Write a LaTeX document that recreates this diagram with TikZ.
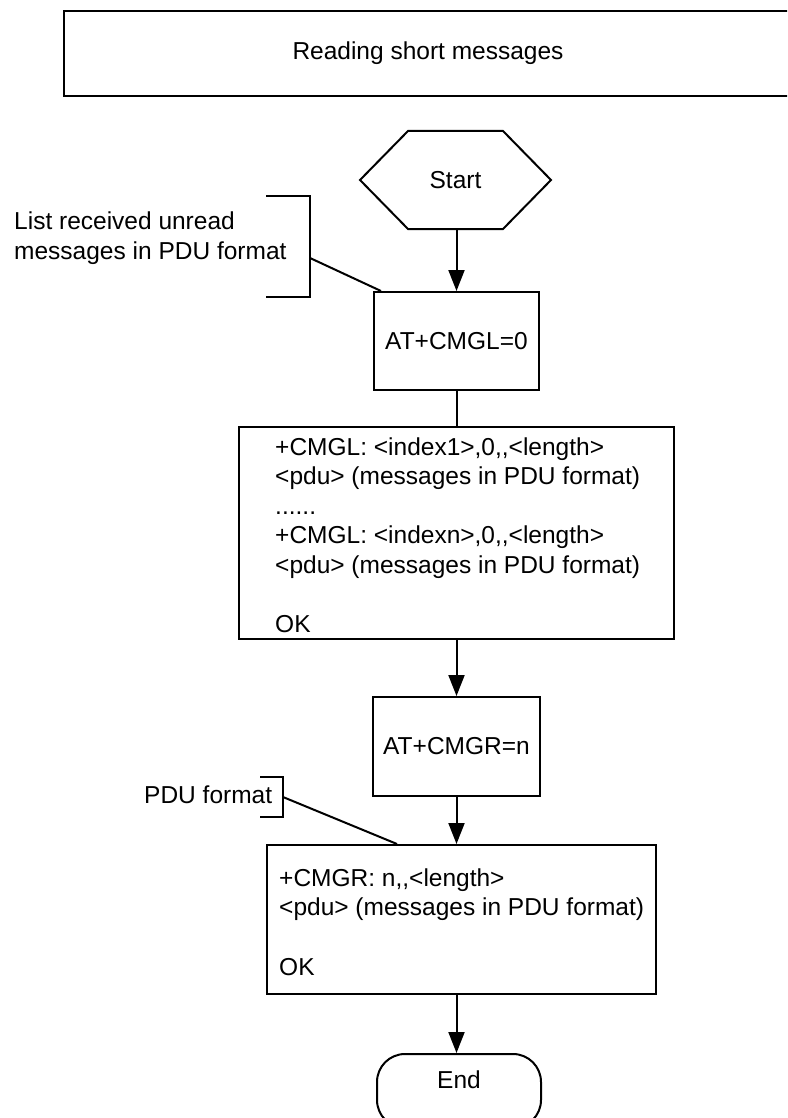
\documentclass[tikz,border=0pt]{standalone}
\usepackage{fontspec}
\setmainfont{Liberation Sans}
\usetikzlibrary{arrows.meta}
\newcommand{\cc}{,\kern0pt,}
\begin{document}
\begin{tikzpicture}[x=1pt,y=-1pt,
  every node/.style={font=\fontsize{24.5}{29.5}\selectfont},
  line/.style={line width=2pt},
  box/.style={draw, line width=2pt, inner sep=0pt, rectangle},
  arr/.style={line width=2pt, -{Triangle[length=21pt,width=16pt]}},
  txt/.style={inner sep=0pt, align=left, anchor=base west}]
\useasboundingbox (0,0) rectangle (787,1118);
\begin{scope}
\clip (0,0) rectangle (787,1118);
% title
\node[box, line width=2.5pt, minimum width=728pt, minimum height=85pt] (title) at (428,53.5) {Reading short messages};
% start hexagon
\draw[line] (360,180) -- (408,131) -- (503,131) -- (551,180) -- (503,229) -- (408,229) -- cycle;
\node (start) at (455.5,180) {Start};
\coordinate (startb) at (456.5,229);
% boxes
\node[box, minimum width=165pt, minimum height=98pt] (b1) at (456.5,341) {AT+CMGL=0};
\node[box, minimum width=435pt, minimum height=212pt] (b2) at (456.5,533) {};
\node[txt] (t2) at (275,632) {+CMGL: <index1>,0\cc<length>\\<pdu> (messages in PDU format)\\......\\+CMGL: <indexn>,0\cc<length>\\<pdu> (messages in PDU format)\\[29.5pt]OK};
\node[box, minimum width=167pt, minimum height=99pt] (b3) at (456.5,746.5) {AT+CMGR=n};
\node[box, minimum width=389pt, minimum height=149pt] (b4) at (461.5,919.5) {};
\node[txt] (t4) at (279,975) {+CMGR: n\cc<length>\\<pdu> (messages in PDU format)\\[30pt]OK};
\node[draw, line width=2pt, rounded corners=28pt, inner sep=0pt, minimum width=164pt, minimum height=74pt] (end) at (459,1091) {};
\node (endt) at (459,1080) {End};
% connectors
\draw[arr] (startb) -- (b1.north);
\draw[line] (b1.south) -- (b2.north);
\draw[arr] (b2.south) -- (b3.north);
\draw[arr] (b3.south) -- (b3.south |- b4.north);
\draw[arr] (b3.south |- b4.south) -- (b3.south |- end.north);
% annotation 1
\node[txt] (n1) at (14,259) {List received unread\\messages in PDU format};
\draw[line] (266,196) -- (310,196) -- (310,297) -- (266,297);
\coordinate (br1) at (310,258);
\draw[line] (br1) -- ([xshift=8pt]b1.north west);
% annotation 2
\node[txt] (n2) at (144,803) {PDU format};
\draw[line] (260,777) -- (283,777) -- (283,817) -- (260,817);
\coordinate (br2) at (283,797);
\draw[line] (br2) -- ([xshift=131pt]b4.north west);
\end{scope}
\end{tikzpicture}
\end{document}
